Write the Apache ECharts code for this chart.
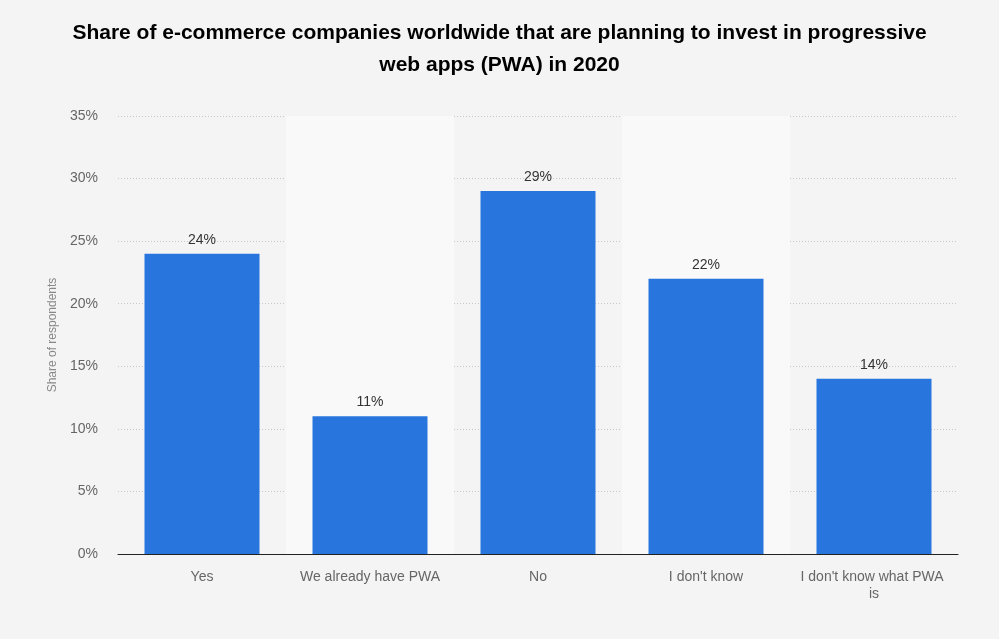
<!DOCTYPE html>
<html>
<head>
<meta charset="utf-8">
<script src="https://cdn.jsdelivr.net/npm/echarts@6/dist/echarts.min.js"></script>
<style>
html,body{margin:0;padding:0;background:#f4f4f4;}
#chart{width:999px;height:639px;}
</style>
</head>
<body>
<div id="chart"></div>
<script>
const titleText = "Share of e-commerce companies worldwide that are planning to invest in progressive\nweb apps (PWA) in 2020";
const categories = ["Yes", "We already have PWA", "No", "I don't know", "I don't know what PWA is"];
const values = [24, 11, 29, 22, 14];
const yAxisName = "Share of respondents";

const chart = echarts.init(document.getElementById('chart'));
chart.setOption({
  backgroundColor: '#f4f4f4',
  animation: false,
  title: {
    text: titleText,
    left: 'center',
    top: 12,
    textStyle: {
      fontFamily: 'Liberation Sans, Arial, sans-serif',
      fontSize: 21,
      fontWeight: 'bold',
      color: '#000',
      lineHeight: 32
    }
  },
  grid: { left: 118, right: 41, top: 116, bottom: 85 },
  xAxis: {
    type: 'category',
    data: categories,
    axisTick: { show: false },
    axisLine: { lineStyle: { color: '#222', width: 1 } },
    splitArea: { show: true, areaStyle: { color: ['rgba(0,0,0,0)', '#f9f9f9'] } },
    axisLabel: {
      fontFamily: 'Liberation Sans, Arial, sans-serif',
      fontSize: 14,
      color: '#666',
      margin: 15,
      width: 152,
      overflow: 'break',
      lineHeight: 17,
      interval: 0
    }
  },
  yAxis: {
    type: 'value',
    min: 0,
    max: 35,
    interval: 5,
    name: yAxisName,
    nameLocation: 'middle',
    nameGap: 59,
    nameTextStyle: {
      fontFamily: 'Liberation Sans, Arial, sans-serif',
      fontSize: 12,
      color: '#888'
    },
    axisLine: { show: false },
    axisTick: { show: false },
    axisLabel: {
      formatter: '{value}%',
      fontFamily: 'Liberation Sans, Arial, sans-serif',
      fontSize: 14,
      color: '#666',
      margin: 20
    },
    splitLine: { lineStyle: { color: '#c8c8c8', type: [1, 2], width: 1 } }
  },
  series: [{
    type: 'bar',
    data: values,
    barWidth: 115,
    itemStyle: { color: '#2876dd' },
    label: {
      show: true,
      position: 'top',
      distance: 7,
      formatter: '{c}%',
      fontFamily: 'Liberation Sans, Arial, sans-serif',
      fontSize: 14,
      color: '#333'
    }
  }]
});
</script>
</body>
</html>
